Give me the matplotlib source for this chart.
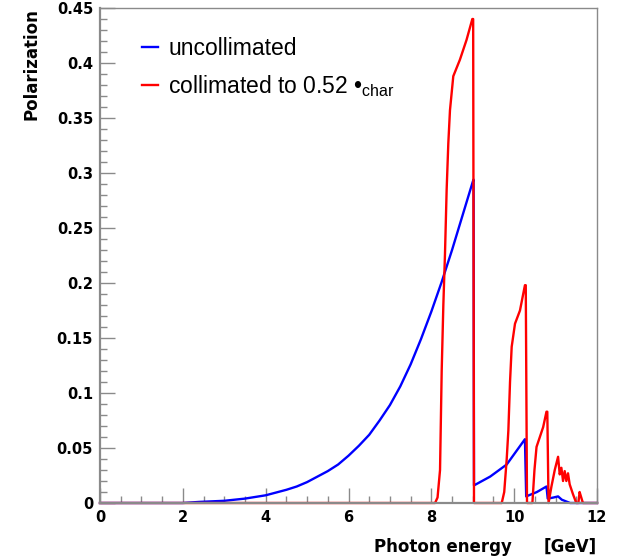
import matplotlib
matplotlib.use("Agg")
import matplotlib.pyplot as plt
from matplotlib.ticker import MultipleLocator

# ---- data ----
uncoll_x = [0.0, 2.0, 2.4, 2.7, 3.0, 3.25, 3.5, 3.75, 4.0, 4.25, 4.5, 4.75, 5.0,
            5.25, 5.5, 5.75, 6.0, 6.25, 6.5, 6.75, 7.0, 7.25, 7.5, 7.75, 8.0,
            8.25, 8.5, 8.75, 9.0, 9.02, 9.03, 9.42, 9.82, 10.26, 10.29, 10.55,
            10.78, 10.81, 10.95, 11.06, 11.15, 11.35, 12.0]
uncoll_y = [0.0, 0.0, 0.001, 0.0015, 0.002, 0.003, 0.004, 0.0055, 0.007, 0.0095,
            0.012, 0.015, 0.019, 0.024, 0.029, 0.035, 0.043, 0.052, 0.062, 0.075,
            0.089, 0.106, 0.126, 0.149, 0.174, 0.201, 0.230, 0.261, 0.292, 0.294,
            0.016, 0.024, 0.035, 0.058, 0.006, 0.010, 0.015, 0.004, 0.005, 0.006,
            0.003, 0.0, 0.0]

coll_x = [0.0, 8.09, 8.15, 8.21, 8.25, 8.29, 8.33, 8.37, 8.41, 8.45, 8.53, 8.69,
          8.85, 8.99, 9.01, 9.03, 9.70, 9.76, 9.82, 9.86, 9.90, 9.94, 10.02, 10.14,
          10.26, 10.28, 10.31, 10.44, 10.49, 10.54, 10.62, 10.70, 10.78, 10.80,
          10.83, 10.90, 10.98, 11.06, 11.10, 11.14, 11.18, 11.22, 11.26, 11.30,
          11.34, 11.42, 11.50, 11.55, 11.58, 11.62, 11.66, 12.0]
coll_y = [0.0, 0.0, 0.005, 0.03, 0.12, 0.18, 0.227, 0.285, 0.327, 0.357, 0.388,
          0.403, 0.421, 0.440, 0.440, 0.0, 0.0, 0.01, 0.04, 0.066, 0.11, 0.142,
          0.163, 0.175, 0.198, 0.198, 0.0, 0.0, 0.03, 0.051, 0.060, 0.069, 0.083,
          0.083, 0.0, 0.015, 0.030, 0.042, 0.026, 0.032, 0.020, 0.029, 0.020,
          0.027, 0.017, 0.008, 0.0, 0.0, 0.010, 0.005, 0.0, 0.0]

xlim = (0, 12)
ylim = (0, 0.45)
legend_labels = ["uncollimated", "collimated to 0.52 \u2022$_{\\mathrm{char}}$"]

plt.rcParams['mathtext.fontset'] = 'custom'
plt.rcParams['mathtext.rm'] = 'Liberation Sans'
plt.rcParams['mathtext.it'] = 'Liberation Sans'

W, H = 620, 558
fig = plt.figure(figsize=(W / 100, H / 100), dpi=100)
ax = fig.add_axes([100 / W, (H - 503) / H, 497 / W, 495 / H])

ax.plot(uncoll_x, uncoll_y, color=(0, 0, 1), lw=1.7, label=legend_labels[0], clip_on=False)
ax.plot(coll_x, coll_y, color=(1, 0, 0), lw=1.7, label=legend_labels[1], clip_on=False)

ax.set_xlim(*xlim)
ax.set_ylim(*ylim)

ax.xaxis.set_major_locator(MultipleLocator(2))
ax.xaxis.set_minor_locator(MultipleLocator(0.5))
ax.yaxis.set_major_locator(MultipleLocator(0.05))
ax.yaxis.set_minor_locator(MultipleLocator(0.01))
ax.yaxis.set_major_formatter(plt.FuncFormatter(lambda v, p: ('%g' % round(v, 3))))
ax.xaxis.set_major_formatter(plt.FuncFormatter(lambda v, p: ('%g' % v)))

gray = '#8a8a8a'
for side, s in ax.spines.items():
    s.set_color(gray)
    s.set_linewidth(1.6 if side in ('left', 'bottom') else 1.0)

ax.tick_params(which='both', direction='in', color=gray, width=1.0,
               top=False, right=False)
ax.tick_params(which='major', length=10.5, pad=5)
ax.tick_params(which='minor', length=5)
for lab in ax.get_xticklabels() + ax.get_yticklabels():
    lab.set_fontfamily('DejaVu Sans')
    lab.set_fontweight('bold')
    lab.set_fontsize(10.5)

leg = ax.legend(loc='upper left', bbox_to_anchor=(0.084, 0.941), frameon=False,
                prop={'family': 'Liberation Sans', 'size': 16.5},
                handlelength=0.7, handletextpad=0.45, borderpad=0,
                borderaxespad=0, labelspacing=0.57)

fig.text(31 / W, 1 - 8 / H, 'Polarization', rotation=90, ha='center', va='top',
         fontfamily='DejaVu Sans', fontweight='bold', fontsize=12)
fig.text(512 / W, (H - 552) / H, 'Photon energy', ha='right', va='baseline',
         fontfamily='DejaVu Sans', fontweight='bold', fontsize=12)
fig.text(597 / W, (H - 552) / H, '[GeV]', ha='right', va='baseline',
         fontfamily='DejaVu Sans', fontweight='bold', fontsize=12)

fig.savefig('out.png', dpi=100)
